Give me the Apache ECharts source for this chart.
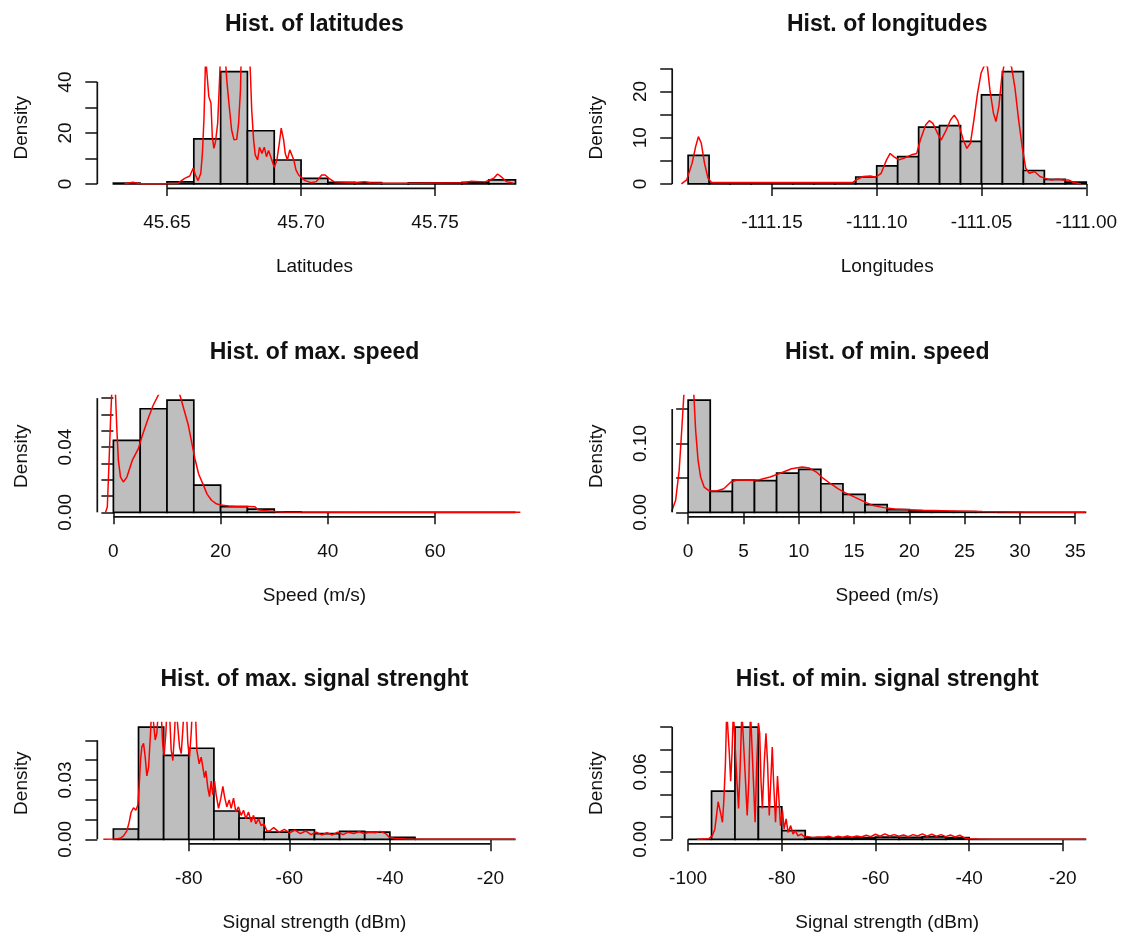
<!DOCTYPE html>
<html><head><meta charset="utf-8">
<script src="https://cdn.jsdelivr.net/npm/echarts@6/dist/echarts.min.js"></script>
<style>html,body{margin:0;padding:0;background:#fff}#c{width:1126px;height:936px}</style>
</head><body><div id="c"></div>
<script>
// ---------- DATA ----------
const titles = ['Hist. of latitudes','Hist. of longitudes','Hist. of max. speed','Hist. of min. speed','Hist. of max. signal strenght','Hist. of min. signal strenght'];
const xNames = ['Latitudes','Longitudes','Speed (m/s)','Speed (m/s)','Signal strength (dBm)','Signal strength (dBm)'];

const latEdges = [45.63,45.64,45.65,45.66,45.67,45.68,45.69,45.70,45.71,45.72,45.73,45.74,45.75,45.76,45.77,45.78];
const latDensity = [0.3,0,0.8,17.7,44.1,20.9,9.4,2.2,0.6,0.5,0.1,0.4,0.4,0.6,1.6];
const latCurve = [[45.6341,0],[45.6372,0.65],[45.6398,0.05],[45.6491,0.05],[45.6541,0.3],[45.6566,2.2],[45.6585,3.1],[45.6598,6.2],[45.6606,3.5],[45.6616,1.3],[45.6626,4.2],[45.6632,12.0],[45.6638,25.8],[45.6644,50],[45.6651,50],[45.6656,34.3],[45.6664,31.7],[45.6669,18.6],[45.6675,14.0],[45.6681,16.6],[45.6689,23.8],[45.6696,40.8],[45.6701,55],[45.6714,55],[45.6723,40.8],[45.6731,31.7],[45.6741,21.2],[45.6750,17.3],[45.6760,17.5],[45.6767,23.8],[45.6774,36.9],[45.6779,60],[45.6791,65],[45.6804,60],[45.6811,43.5],[45.6816,29.0],[45.6823,17.3],[45.6829,11.4],[45.6838,9.4],[45.6845,14.4],[45.6854,12.0],[45.6863,14.4],[45.6871,10.7],[45.6879,13.1],[45.6891,9.4],[45.6900,6.5],[45.6910,9.4],[45.6919,16.0],[45.6926,21.9],[45.6935,17.3],[45.6941,12.0],[45.6949,9.4],[45.6958,13.4],[45.6964,13.4],[45.6973,9.4],[45.6981,5.5],[45.6991,3.5],[45.7004,2.2],[45.7016,1.3],[45.7037,0.5],[45.7057,0.9],[45.7077,3.5],[45.7090,3.5],[45.7104,2.2],[45.7124,0.8],[45.7204,0.5],[45.7237,0.9],[45.7258,0.5],[45.7311,0.26],[45.7391,0.26],[45.7605,0.5],[45.7632,1.0],[45.7686,0.8],[45.7719,2.2],[45.7733,3.9],[45.7746,2.9],[45.7766,0.9],[45.7793,0.26]];

const lonEdges = [-111.19,-111.18,-111.17,-111.16,-111.15,-111.14,-111.13,-111.12,-111.11,-111.10,-111.09,-111.08,-111.07,-111.06,-111.05,-111.04,-111.03,-111.02,-111.01,-111.00];
const lonDensity = [6.2,0.15,0.15,0.15,0.15,0.15,0.15,0.15,1.5,3.9,5.9,12.3,12.6,9.2,19.3,24.3,2.9,1.0,0.4];
const lonCurve = [[-111.1932,0],[-111.1907,0.87],[-111.1881,4.5],[-111.1864,8.1],[-111.1851,10.25],[-111.1837,8.8],[-111.1822,4.5],[-111.1805,1.2],[-111.1788,0.3],[-111.1762,0.3],[-111.1115,0.3],[-111.1098,0.87],[-111.1064,1.6],[-111.1030,1.7],[-111.1005,1.44],[-111.0979,2.3],[-111.0953,5.2],[-111.0936,6.6],[-111.0919,5.9],[-111.0894,5.2],[-111.0868,5.6],[-111.0834,6.3],[-111.0809,6.6],[-111.0792,9.5],[-111.0766,12.8],[-111.0749,13.7],[-111.0732,13.1],[-111.0710,11.0],[-111.0693,9.5],[-111.0672,11.3],[-111.0647,13.9],[-111.0630,14.9],[-111.0613,13.7],[-111.0587,9.5],[-111.0570,7.7],[-111.0553,8.8],[-111.0536,13.9],[-111.0519,19.6],[-111.0502,24.0],[-111.0485,25.8],[-111.0472,25.4],[-111.0460,20.4],[-111.0443,15.3],[-111.0431,13.5],[-111.0417,16.8],[-111.0403,23.2],[-111.0392,25.8],[-111.0375,26.1],[-111.0357,25.4],[-111.0340,20.7],[-111.0323,13.9],[-111.0306,8.1],[-111.0289,3.4],[-111.0272,2.3],[-111.0247,2.7],[-111.0221,1.6],[-111.0196,1.2],[-111.0170,0.87],[-111.0136,1.0],[-111.0111,0.87],[-111.0085,0.87],[-111.0060,0.3],[-111.0025,0]];

const maxSpdEdges = [0,5,10,15,20,25,30,35,40,45,50,55,60,65,70,75];
const maxSpdDensity = [0.0441,0.0635,0.0688,0.0167,0.0035,0.002,0.0003,0,0,0,0,0,0,0,0];
const maxSpdCurve = [[-1.46,0],[-1.13,0.0033],[-0.8,0.0318],[-0.53,0.0563],[-0.33,0.0716],[-0.13,0.09],[0.2,0.09],[0.4,0.0716],[0.66,0.05],[0.93,0.0318],[1.33,0.0216],[1.86,0.0186],[2.52,0.0216],[3.52,0.0318],[4.66,0.039],[5.3,0.0461],[6.5,0.0576],[7.4,0.0655],[8.4,0.072],[9.0,0.076],[9.9,0.079],[11.16,0.078],[12.16,0.074],[12.49,0.071],[13.16,0.063],[13.97,0.0535],[15.2,0.033],[15.9,0.0235],[16.76,0.0168],[17.5,0.011],[18.3,0.0074],[19.2,0.0052],[20.0,0.0045],[21.5,0.0038],[23.0,0.0036],[25.2,0.0036],[26.4,0.0034],[27.0,0.0016],[28.5,0.0009],[30.43,0.0004],[31.76,0.0002],[45,0],[75.9,0]];

const minSpdEdges = [0,2,4,6,8,10,12,14,16,18,20,22,24,26,28,30,32,34,36];
const minSpdDensity = [0.163,0.0304,0.0469,0.046,0.057,0.0623,0.0415,0.026,0.0111,0.004,0.002,0.001,0.001,0.0005,0,0,0,0];
const minSpdCurve = [[-1.77,0],[-1.45,0.0029],[-1.13,0.0174],[-0.81,0.0609],[-0.58,0.1188],[-0.39,0.1696],[-0.26,0.19],[0.06,0.2],[0.39,0.19],[0.52,0.1696],[0.68,0.1188],[0.9,0.0754],[1.13,0.0512],[1.45,0.0367],[1.93,0.0309],[2.58,0.0309],[3.22,0.0343],[3.87,0.044],[4.51,0.0473],[5.48,0.0464],[6.45,0.0473],[7.41,0.0512],[8.38,0.057],[9.35,0.0633],[10.31,0.0657],[10.96,0.0643],[11.6,0.0585],[12.25,0.0488],[12.89,0.0415],[13.54,0.0343],[14.18,0.0285],[15.15,0.0213],[16.11,0.014],[16.76,0.0097],[17.72,0.0068],[18.69,0.0048],[19.98,0.0039],[21.27,0.0029],[23.85,0.0019],[26.59,0.001],[30.29,0.0005],[35.93,0]];

const maxSigEdges = [-95,-90,-85,-80,-75,-70,-65,-60,-55,-50,-45,-40,-35,-30,-25,-20,-15];
const maxSigDensity = [0.0052,0.0567,0.0424,0.046,0.0143,0.0107,0.0036,0.0048,0.0029,0.004,0.0036,0.001,0,0,0,0];
const maxSigCurve = [[-97.0,0],[-94.5,0.0002],[-93.65,0.0005],[-92.98,0.0017],[-92.32,0.0043],[-91.86,0.0087],[-91.46,0.0138],[-90.99,0.0159],[-90.53,0.0147],[-90.13,0.0173],[-89.87,0.0268],[-89.6,0.0398],[-89.34,0.0467],[-89.0,0.0485],[-88.67,0.0415],[-88.34,0.032],[-88.0,0.0363],[-87.61,0.0537],[-87.35,0.068],[-87.0,0.068],[-86.68,0.0502],[-86.35,0.0537],[-86.0,0.068],[-85.56,0.068],[-85.2,0.0485],[-84.9,0.0424],[-84.56,0.0537],[-84.3,0.068],[-83.9,0.068],[-83.5,0.045],[-83.17,0.0398],[-82.84,0.0537],[-82.57,0.068],[-82.18,0.068],[-81.84,0.0467],[-81.51,0.0433],[-81.18,0.0554],[-80.92,0.068],[-80.52,0.068],[-80.19,0.0485],[-79.85,0.0415],[-79.52,0.0537],[-79.26,0.068],[-78.73,0.068],[-78.4,0.045],[-77.93,0.0381],[-77.53,0.0415],[-77.2,0.0363],[-76.87,0.0312],[-76.6,0.0346],[-76.21,0.026],[-75.88,0.0216],[-75.54,0.0294],[-75.21,0.0225],[-74.88,0.0294],[-74.55,0.0225],[-74.08,0.0156],[-73.62,0.0208],[-73.22,0.0268],[-72.89,0.0216],[-72.43,0.0164],[-71.96,0.0199],[-71.57,0.0156],[-71.1,0.0208],[-70.64,0.0138],[-70.11,0.0164],[-69.58,0.0121],[-69.11,0.0147],[-68.65,0.0104],[-68.12,0.0138],[-67.59,0.0087],[-67.12,0.0121],[-66.66,0.0078],[-66.13,0.0104],[-65.6,0.0069],[-65.07,0.0078],[-64.47,0.0043],[-63.96,0.0042],[-63.11,0.0059],[-62.05,0.0036],[-60.99,0.005],[-59.93,0.0033],[-58.87,0.0047],[-57.81,0.0029],[-56.75,0.0042],[-55.69,0.0024],[-54.63,0.0036],[-53.57,0.0022],[-52.51,0.0033],[-51.45,0.0022],[-50.39,0.0036],[-49.33,0.0024],[-48.27,0.0036],[-47.21,0.0029],[-46.15,0.0038],[-45.09,0.0029],[-44.03,0.0036],[-42.97,0.0033],[-41.91,0.004],[-40.85,0.0029],[-40.14,0.001],[-39.08,0.0005],[-36.96,0.0002],[-32.7,0],[-15.05,0]];

const minSigEdges = [-100,-95,-90,-85,-80,-75,-70,-65,-60,-55,-50,-45,-40,-35,-30,-25,-20,-15];
const minSigDensity = [0,0.043,0.100,0.029,0.0078,0.0015,0.0012,0.0015,0.002,0.0018,0.0021,0.0015,0,0,0,0,0];
const minSigCurve = [[-98.1,0],[-97.7,0],[-95.56,0.0006],[-94.86,0.003],[-94.3,0.009],[-93.94,0.0213],[-93.59,0.0335],[-93.31,0.035],[-92.96,0.0213],[-92.68,0.0152],[-92.39,0.0335],[-92.04,0.067],[-91.76,0.115],[-91.48,0.115],[-91.2,0.0762],[-90.92,0.0518],[-90.63,0.0762],[-90.35,0.115],[-89.93,0.115],[-89.58,0.0518],[-89.23,0.0274],[-88.87,0.067],[-88.52,0.115],[-88.1,0.115],[-87.75,0.0518],[-87.39,0.0213],[-87.04,0.0518],[-86.69,0.115],[-86.41,0.115],[-86.06,0.0518],[-85.7,0.0152],[-85.35,0.067],[-85.0,0.1037],[-84.72,0.0945],[-84.44,0.0518],[-84.15,0.0274],[-83.73,0.0701],[-83.38,0.0945],[-83.03,0.067],[-82.68,0.0213],[-82.32,0.0549],[-82.04,0.0823],[-81.76,0.0518],[-81.34,0.0152],[-80.92,0.0564],[-80.63,0.0366],[-80.28,0.0122],[-79.86,0.0259],[-79.51,0.0091],[-79.08,0.0183],[-78.66,0.0061],[-78.1,0.0122],[-77.61,0.0046],[-77.11,0.0076],[-76.55,0.003],[-75.85,0.0046],[-75.14,0.0021],[-74.44,0.0024],[-73.38,0.0015],[-72.32,0.0021],[-71,0.0018],[-70,0.0027],[-69,0.0015],[-68,0.0027],[-67,0.0018],[-66,0.003],[-65,0.0018],[-64,0.003],[-63,0.0021],[-62,0.0036],[-61,0.0024],[-60,0.0045],[-59,0.0027],[-58,0.0048],[-57,0.003],[-56,0.0042],[-55,0.0027],[-54,0.0039],[-53,0.0024],[-52,0.0042],[-51,0.003],[-50,0.0048],[-49,0.0027],[-48,0.0045],[-47,0.0027],[-46,0.0042],[-45,0.0024],[-44,0.0039],[-43,0.0021],[-42,0.0036],[-41,0.0012],[-40,0.0006],[-38,0.0002],[-35,0],[-15.05,0]];

// tick values and tick labels
const latXTicks = [45.65,45.70,45.75], latYTicks = [0,10,20,30,40], latYLabels = [0,20,40];
const lonXTicks = [-111.15,-111.10,-111.05,-111.00], lonYTicks = [0,5,10,15,20,25], lonYLabels = [0,10,20];
const maxSpdXTicks = [0,20,40,60], maxSpdYTicks = [0,0.01,0.02,0.03,0.04,0.05,0.06,0.07], maxSpdYLabels = [0,0.04];
const minSpdXTicks = [0,5,10,15,20,25,30,35], minSpdYTicks = [0,0.05,0.10,0.15], minSpdYLabels = [0,0.10];
const maxSigXTicks = [-80,-60,-40,-20], maxSigYTicks = [0,0.01,0.02,0.03,0.04,0.05], maxSigYLabels = [0,0.03];
const minSigXTicks = [-100,-80,-60,-40,-20], minSigYTicks = [0,0.02,0.04,0.06,0.08,0.10], minSigYLabels = [0,0.06];
const xDecimals = [2,2,0,0,0,0];
const yDecimals = [0,0,2,2,2,2];

// ---------- LAYOUT / STYLE ----------
const FONT = '"Liberation Sans", Arial, Helvetica, sans-serif';
const INK = '#111';
const colLeft = [97.3, 672.2], colWidth = [434.3, 430];
const rowTop = [67.2, 395.6, 722.6], rowHeight = 121.2;

const panels = [
  {edges: latEdges, dens: latDensity, curve: latCurve, xt: latXTicks, yt: latYTicks, yl: latYLabels},
  {edges: lonEdges, dens: lonDensity, curve: lonCurve, xt: lonXTicks, yt: lonYTicks, yl: lonYLabels},
  {edges: maxSpdEdges, dens: maxSpdDensity, curve: maxSpdCurve, xt: maxSpdXTicks, yt: maxSpdYTicks, yl: maxSpdYLabels},
  {edges: minSpdEdges, dens: minSpdDensity, curve: minSpdCurve, xt: minSpdXTicks, yt: minSpdYTicks, yl: minSpdYLabels},
  {edges: maxSigEdges, dens: maxSigDensity, curve: maxSigCurve, xt: maxSigXTicks, yt: maxSigYTicks, yl: maxSigYLabels},
  {edges: minSigEdges, dens: minSigDensity, curve: minSigCurve, xt: minSigXTicks, yt: minSigYTicks, yl: minSigYLabels}
];

const grids = [], xAxes = [], yAxes = [], series = [], titleOpts = [];
panels.forEach((p, i) => {
  const col = i % 2, row = Math.floor(i / 2);
  const e0 = p.edges[0], e1 = p.edges[p.edges.length - 1], r = e1 - e0;
  const xmin = e0 - 0.04 * r, xmax = e1 + 0.04 * r;
  const m = Math.max.apply(null, p.dens);
  const ymin = -0.04 * m, ymax = 1.04 * m;
  grids.push({left: colLeft[col], top: rowTop[row], width: colWidth[col], height: rowHeight});
  titleOpts.push({text: titles[i], left: colLeft[col] + colWidth[col] / 2, top: rowTop[row] - 54, textAlign: 'center', padding: 0,
    textStyle: {fontFamily: FONT, fontSize: 23, fontWeight: 'bold', color: INK}});
  const xd = xDecimals[i], yd = yDecimals[i];
  xAxes.push({type: 'value', gridIndex: i, min: xmin, max: xmax,
    axisLine: {show: false}, splitLine: {show: false},
    axisTick: {show: true, customValues: p.xt, length: 12, lineStyle: {color: INK, width: 1.5}},
    axisLabel: {customValues: p.xt, margin: 25, fontFamily: FONT, fontSize: 19, color: INK, formatter: v => Number(v).toFixed(xd)},
    name: xNames[i], nameLocation: 'middle', nameGap: 69, nameTextStyle: {fontFamily: FONT, fontSize: 19, color: INK}});
  yAxes.push({type: 'value', gridIndex: i, min: ymin, max: ymax,
    axisLine: {show: false}, splitLine: {show: false},
    axisTick: {show: true, customValues: p.yt, length: 12, lineStyle: {color: INK, width: 1.5}},
    axisLabel: {customValues: p.yl, margin: 22, rotate: 90, fontFamily: FONT, fontSize: 19, color: INK, formatter: v => Number(v).toFixed(yd)},
    name: 'Density', nameLocation: 'middle', nameGap: 66, nameRotate: 90, nameTextStyle: {fontFamily: FONT, fontSize: 19, color: INK}});
  const bins = p.dens.map((h, k) => [p.edges[k], p.edges[k + 1], h]);
  series.push({type: 'custom', xAxisIndex: i, yAxisIndex: i, data: bins, encode: {x: [0, 1], y: 2}, z: 2,
    renderItem: (params, api) => {
      const a = api.coord([api.value(0), 0]);
      const b = api.coord([api.value(1), api.value(2)]);
      return {type: 'rect', shape: {x: a[0], y: b[1], width: b[0] - a[0], height: a[1] - b[1]},
        style: {fill: '#BEBEBE', stroke: '#000', lineWidth: 1.7}};
    }});
  series.push({type: 'line', xAxisIndex: i, yAxisIndex: i, data: p.curve, showSymbol: false, symbol: 'none', clip: true, z: 3,
    lineStyle: {color: '#FF0000', width: 1.5}});
  series.push({type: 'line', xAxisIndex: i, yAxisIndex: i, data: [[p.xt[0], ymin], [p.xt[p.xt.length - 1], ymin]], symbol: 'none', clip: false, z: 4,
    lineStyle: {color: INK, width: 1.7}});
  series.push({type: 'line', xAxisIndex: i, yAxisIndex: i, data: [[xmin, p.yt[0]], [xmin, p.yt[p.yt.length - 1]]], symbol: 'none', clip: false, z: 4,
    lineStyle: {color: INK, width: 1.7}});
});

const chart = echarts.init(document.getElementById('c'), null, {renderer: 'canvas'});
chart.setOption({animation: false, backgroundColor: '#fff', title: titleOpts, grid: grids, xAxis: xAxes, yAxis: yAxes, series: series});
</script></body></html>
